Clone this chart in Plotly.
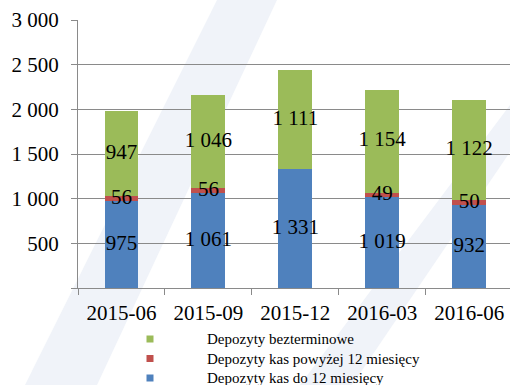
import plotly.graph_objects as go

# Quarter-end dates and deposit amounts by type
quarters = ["2015-06", "2015-09", "2015-12", "2016-03", "2016-06"]
dep_do_12m = [975, 1061, 1331, 1019, 932]           # Depozyty kas do 12 miesięcy
dep_pow_12m = [56, 56, None, 49, 50]                # Depozyty kas powyżej 12 miesięcy
dep_bezterm = [947, 1046, 1111, 1154, 1122]         # Depozyty bezterminowe

series_names = [
    "Depozyty kas do 12 miesięcy",
    "Depozyty kas powyżej 12 miesięcy",
    "Depozyty bezterminowe",
]
series_colors = ["#4F81BD", "#C0504D", "#9BBB59"]
series_values = [dep_do_12m, dep_pow_12m, dep_bezterm]

y_ticks = [0, 500, 1000, 1500, 2000, 2500, 3000]
y_tick_text = ["" if v == 0 else f"{v:,}".replace(",", " ") for v in y_ticks]

FONT = "'Liberation Serif', 'Times New Roman', 'DejaVu Serif', serif"
GRID = "#8a8a8a"

W, H = 510, 385
plot_l, plot_t, plot_w, plot_h = 78, 20, 432, 268


def px_to_paper(px, py):
    return (px - plot_l) / plot_w, 1 - (py - plot_t) / plot_h


fig = go.Figure()

# stacked bars
for name, color, vals in zip(series_names, series_colors, series_values):
    fig.add_trace(go.Bar(
        x=quarters,
        y=vals,
        name=name,
        marker=dict(color=color, line=dict(width=0)),
        showlegend=False,
        hoverinfo="skip",
    ))

# value labels centred on each segment, drawn above all bars
base = [0] * len(quarters)
for vals in series_values:
    xs, ys, labels = [], [], []
    for i, v in enumerate(vals):
        if v is None:
            continue
        xs.append(quarters[i])
        ys.append(base[i] + v / 2)
        labels.append(f"{v:,}".replace(",", " "))
        base[i] += v
    fig.add_trace(go.Scatter(
        x=xs, y=ys, mode="text", text=labels,
        textposition="middle center",
        textfont=dict(family=FONT, size=21, color="black"),
        showlegend=False, hoverinfo="skip", cliponaxis=False,
    ))

# faint diagonal background emblem (pixel outlines)
emblem = [
    [(217, 0), (277, 0), (97, 385), (25, 385)],
    [(300, 385), (352, 385), (510, 152), (510, 105)],
]


def to_path(points):
    parts = []
    for k, (px, py) in enumerate(points):
        xp, yp = px_to_paper(px, py)
        parts.append(f"{'M' if k == 0 else 'L'} {xp:.4f} {yp:.4f}")
    return " ".join(parts) + " Z"


shapes = [
    dict(type="path", xref="paper", yref="paper", path=to_path(p),
         layer="below", line=dict(width=0), fillcolor="#F0F3F9")
    for p in emblem
]

# legend below the axis: top entry is the top segment of the stack
annotations = []
legend_rows_y = [339, 358.5, 378]
swatch_x, text_x, half = 150, 205, 3.5
for row_y, name, color in zip(legend_rows_y, series_names[::-1], series_colors[::-1]):
    x0, y0 = px_to_paper(swatch_x - half, row_y + half)
    x1, y1 = px_to_paper(swatch_x + half, row_y - half)
    shapes.append(dict(type="rect", xref="paper", yref="paper",
                       x0=x0, y0=y0, x1=x1, y1=y1,
                       line=dict(width=0), fillcolor=color))
    tx, ty = px_to_paper(text_x, row_y)
    annotations.append(dict(
        x=tx, y=ty, xref="paper", yref="paper", text=name,
        xanchor="left", yanchor="middle", showarrow=False,
        font=dict(family=FONT, size=15, color="black"),
    ))

fig.update_layout(
    width=W,
    height=H,
    margin=dict(l=plot_l, r=W - plot_l - plot_w, t=plot_t,
                b=H - plot_t - plot_h, autoexpand=False),
    barmode="stack",
    bargap=0.61,
    showlegend=False,
    paper_bgcolor="white",
    plot_bgcolor="rgba(0,0,0,0)",
    font=dict(family=FONT, size=21, color="black"),
    shapes=shapes,
    annotations=annotations,
    xaxis=dict(
        type="category",
        range=[-0.5, 4.47],
        showgrid=False,
        showline=True,
        linecolor=GRID,
        linewidth=1.3,
        ticks="outside",
        tickson="boundaries",
        ticklen=6,
        tickcolor=GRID,
        tickwidth=1.3,
        ticklabelstandoff=6,
        tickfont=dict(family=FONT, size=21, color="black"),
    ),
    yaxis=dict(
        range=[0, 3000],
        tickvals=y_ticks,
        ticktext=y_tick_text,
        showgrid=True,
        gridcolor=GRID,
        gridwidth=1.3,
        zeroline=False,
        showline=True,
        linecolor=GRID,
        linewidth=1.3,
        ticks="outside",
        ticklen=6,
        tickcolor=GRID,
        tickwidth=1.3,
        ticklabelstandoff=8,
        tickfont=dict(family=FONT, size=21, color="black"),
    ),
)

fig.write_html("out.html")
